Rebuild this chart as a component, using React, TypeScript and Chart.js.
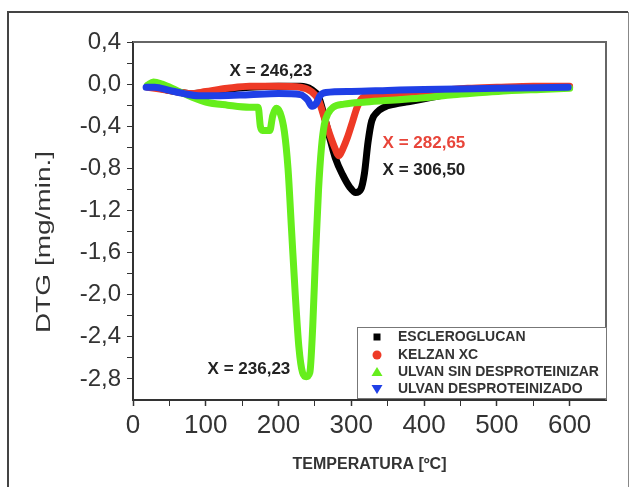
import React, { useEffect, useRef } from "react";
import { Chart, registerables } from "chart.js";

Chart.register(...registerables);

// ---- Data ----
const seriesLabels = [
  "ESCLEROGLUCAN",
  "KELZAN XC",
  "ULVAN SIN DESPROTEINIZAR",
  "ULVAN DESPROTEINIZADO",
];
const seriesColors = ["#000000", "#ee3a26", "#66ee1c", "#1f3fe6"];

const escleroT = [20, 30, 50, 80, 100, 130, 160, 200, 230, 245, 255, 262, 270, 278, 288, 298, 306, 313, 318, 323, 328, 335, 345, 360, 375, 400, 430, 470, 520, 560, 600];
const escleroDTG = [-0.02, -0.03, -0.06, -0.09, -0.08, -0.05, -0.03, -0.02, -0.02, -0.05, -0.12, -0.28, -0.5, -0.7, -0.86, -0.98, -1.03, -1.0, -0.85, -0.55, -0.35, -0.27, -0.22, -0.19, -0.17, -0.14, -0.1, -0.07, -0.05, -0.04, -0.03];

const kelzanT = [20, 50, 80, 100, 130, 160, 200, 230, 245, 255, 262, 270, 277, 283, 288, 295, 302, 308, 314, 325, 340, 380, 420, 460, 500, 550, 600];
const kelzanDTG = [-0.03, -0.06, -0.09, -0.07, -0.04, -0.02, -0.02, -0.03, -0.07, -0.15, -0.3, -0.47, -0.6, -0.68, -0.62, -0.5, -0.35, -0.22, -0.14, -0.11, -0.1, -0.08, -0.06, -0.04, -0.03, -0.02, -0.02];

const ulvanSinT = [20, 28, 40, 60, 80, 100, 130, 160, 172, 175, 178, 188, 192, 197, 202, 208, 213, 218, 223, 228, 233, 238, 243, 247, 251, 255, 259, 263, 268, 275, 290, 320, 360, 400, 440, 480, 520, 560, 600];
const ulvanSinDTG = [-0.01, 0.02, 0.0, -0.06, -0.12, -0.17, -0.2, -0.22, -0.22, -0.4, -0.44, -0.44, -0.3, -0.23, -0.27, -0.45, -0.8, -1.4, -2.0, -2.5, -2.74, -2.78, -2.74, -2.3, -1.6, -1.0, -0.6, -0.38, -0.28, -0.22, -0.19, -0.17, -0.15, -0.13, -0.1, -0.08, -0.06, -0.05, -0.04];

const ulvanDesT = [18, 30, 50, 70, 90, 120, 160, 200, 230, 240, 246, 252, 257, 265, 300, 350, 400, 500, 598];
const ulvanDesDTG = [-0.03, -0.03, -0.06, -0.09, -0.11, -0.11, -0.1, -0.09, -0.1, -0.15, -0.21, -0.18, -0.11, -0.08, -0.07, -0.06, -0.05, -0.04, -0.03];

const xMajorTicks = [0, 100, 200, 300, 400, 500, 600];
const xMinorTicks = [50, 150, 250, 350, 450, 550];
const yMajorTicks = [0.4, 0.0, -0.4, -0.8, -1.2, -1.6, -2.0, -2.4, -2.8];
const yMinorTicks = [0.2, -0.2, -0.6, -1.0, -1.4, -1.8, -2.2, -2.6];

const annotationTexts = ["X = 246,23", "X = 282,65", "X = 306,50", "X = 236,23"];
const annotationT = [132.7, 343, 343, 102.5];
const annotationV = [0.124, -0.56, -0.816, -2.706];
const annotationColors = ["#222222", "#e8453a", "#222222", "#222222"];

const xTitle = "TEMPERATURA [ºC]";
const yTitle = "DTG [mg/min.]";

const FONT = "'Liberation Sans', Arial, sans-serif";

function toPoints(xs: number[], ys: number[]) {
  return xs.map((x, i) => ({ x, y: ys[i] }));
}

const decorPlugin = {
  id: "decor",
  beforeDraw(chart: any) {
    const ctx = chart.ctx;
    ctx.save();
    ctx.fillStyle = "#ffffff";
    ctx.fillRect(0, 0, chart.width, chart.height);
    // outer page frame
    ctx.strokeStyle = "#444444";
    ctx.lineWidth = 2;
    ctx.beginPath();
    ctx.moveTo(8, chart.height);
    ctx.lineTo(8, 12);
    ctx.lineTo(628, 12);
    ctx.stroke();
    ctx.strokeStyle = "#888888";
    ctx.lineWidth = 1;
    ctx.beginPath();
    ctx.moveTo(628.5, 12);
    ctx.lineTo(628.5, chart.height);
    ctx.stroke();
    ctx.restore();
  },
  afterDatasetsDraw(chart: any) {
    const ctx = chart.ctx;
    const { left, top, right, bottom } = chart.chartArea;
    const xs = chart.scales.x;
    const ys = chart.scales.y;
    ctx.save();
    // top & right frame
    ctx.strokeStyle = "#666666";
    ctx.lineWidth = 2;
    ctx.beginPath();
    ctx.moveTo(left, top);
    ctx.lineTo(right, top);
    ctx.lineTo(right, bottom);
    ctx.stroke();

    // annotations
    ctx.font = `bold 17px ${FONT}`;
    ctx.textAlign = "left";
    ctx.textBaseline = "middle";
    annotationTexts.forEach((t, i) => {
      ctx.fillStyle = annotationColors[i];
      ctx.fillText(t, xs.getPixelForValue(annotationT[i]), ys.getPixelForValue(annotationV[i]));
    });

    // axis titles
    ctx.fillStyle = "#333333";
    ctx.font = `bold 16px ${FONT}`;
    ctx.textAlign = "center";
    ctx.fillText(xTitle, (left + right) / 2, 465);

    ctx.save();
    ctx.translate(44, (top + bottom) / 2 + 21);
    ctx.rotate(-Math.PI / 2);
    ctx.scale(1, 0.75);
    ctx.font = `28px ${FONT}`;
    ctx.fillText(yTitle, 0, 0);
    ctx.restore();

    // legend box
    const bx = 357, by = 327, bw = 250, bh = 72;
    ctx.fillStyle = "#ffffff";
    ctx.fillRect(bx, by, bw, bh);
    ctx.strokeStyle = "#777777";
    ctx.lineWidth = 1;
    ctx.strokeRect(bx + 0.5, by + 0.5, bw - 1, bh - 1);
    const rowY = [337, 355, 372, 389];
    ctx.font = `bold 14px ${FONT}`;
    ctx.textAlign = "left";
    ctx.textBaseline = "middle";
    chart.data.datasets.forEach((ds: any, i: number) => {
      const cy = rowY[i];
      const cx = 377;
      ctx.fillStyle = ds.borderColor;
      ctx.beginPath();
      if (i === 0) {
        ctx.rect(cx - 3.5, cy - 3.5, 7, 7);
      } else if (i === 1) {
        ctx.arc(cx, cy, 4.5, 0, Math.PI * 2);
      } else if (i === 2) {
        ctx.moveTo(cx, cy - 5);
        ctx.lineTo(cx + 5.5, cy + 4);
        ctx.lineTo(cx - 5.5, cy + 4);
        ctx.closePath();
      } else {
        ctx.moveTo(cx, cy + 5);
        ctx.lineTo(cx + 5.5, cy - 4);
        ctx.lineTo(cx - 5.5, cy - 4);
        ctx.closePath();
      }
      ctx.fill();
      ctx.fillStyle = "#333333";
      ctx.fillText(ds.label, 398, cy);
    });
    ctx.restore();
  },
};

export default function App() {
  const canvasRef = useRef<HTMLCanvasElement | null>(null);

  useEffect(() => {
    if (!canvasRef.current) return;
    const lists = [
      toPoints(escleroT, escleroDTG),
      toPoints(kelzanT, kelzanDTG),
      toPoints(ulvanSinT, ulvanSinDTG),
      toPoints(ulvanDesT, ulvanDesDTG),
    ];
    const orders = [4, 3, 2, 1];
    const chart = new Chart(canvasRef.current, {
      type: "line",
      data: {
        datasets: lists.map((pts, i) => ({
          label: seriesLabels[i],
          data: pts,
          borderColor: seriesColors[i],
          backgroundColor: seriesColors[i],
          borderWidth: 7,
          pointRadius: 0,
          tension: 0.3,
          cubicInterpolationMode: "monotone" as const,
          borderJoinStyle: "round" as const,
          borderCapStyle: "round" as const,
          fill: false,
          order: orders[i],
        })),
      },
      options: {
        responsive: false,
        animation: false,
        devicePixelRatio: 1,
        layout: { padding: { top: 42, right: 28, left: 0, bottom: 0 } },
        plugins: {
          legend: { display: false },
          tooltip: { enabled: false },
          title: { display: false },
        },
        scales: {
          x: {
            type: "linear",
            position: "bottom",
            min: 0,
            max: 650,
            afterFit: (s: any) => {
              s.height = 87;
            },
            afterBuildTicks: (s: any) => {
              s.ticks = [...xMajorTicks, ...xMinorTicks]
                .sort((a, b) => a - b)
                .map((v) => ({ value: v }));
            },
            grid: {
              drawOnChartArea: false,
              drawTicks: true,
              tickLength: 6,
              color: "#333333",
              tickWidth: (c: any) => (xMajorTicks.includes(c.tick?.value) ? 1.5 : 1),
            },
            border: { display: true, color: "#333333", width: 2 },
            ticks: {
              autoSkip: false,
              maxRotation: 0,
              padding: 4,
              color: "#333333",
              font: { size: 26, family: FONT },
              callback: (v: any) => (xMajorTicks.includes(Number(v)) ? String(v) : ""),
            },
          },
          y: {
            type: "linear",
            min: -3.0,
            max: 0.4,
            afterFit: (s: any) => {
              s.width = 133;
            },
            afterBuildTicks: (s: any) => {
              s.ticks = [...yMajorTicks, ...yMinorTicks]
                .sort((a, b) => a - b)
                .map((v) => ({ value: v }));
            },
            grid: {
              drawOnChartArea: false,
              drawTicks: true,
              tickLength: 6,
              color: "#333333",
            },
            border: { display: true, color: "#333333", width: 2 },
            ticks: {
              autoSkip: false,
              padding: 6,
              color: "#333333",
              font: { size: 24, family: FONT },
              callback: (v: any) => {
                const n = Number(v);
                const isMajor = yMajorTicks.some((m) => Math.abs(m - n) < 1e-6);
                if (!isMajor) return "";
                const r = Math.abs(n) < 1e-9 ? 0 : n;
                return r.toFixed(1).replace(".", ",");
              },
            },
          },
        },
      },
      plugins: [decorPlugin],
    });
    return () => chart.destroy();
  }, []);

  return (
    <div style={{ position: "absolute", left: 0, top: 0, width: 634, height: 487 }}>
      <canvas ref={canvasRef} width={634} height={487} style={{ display: "block" }} />
    </div>
  );
}
